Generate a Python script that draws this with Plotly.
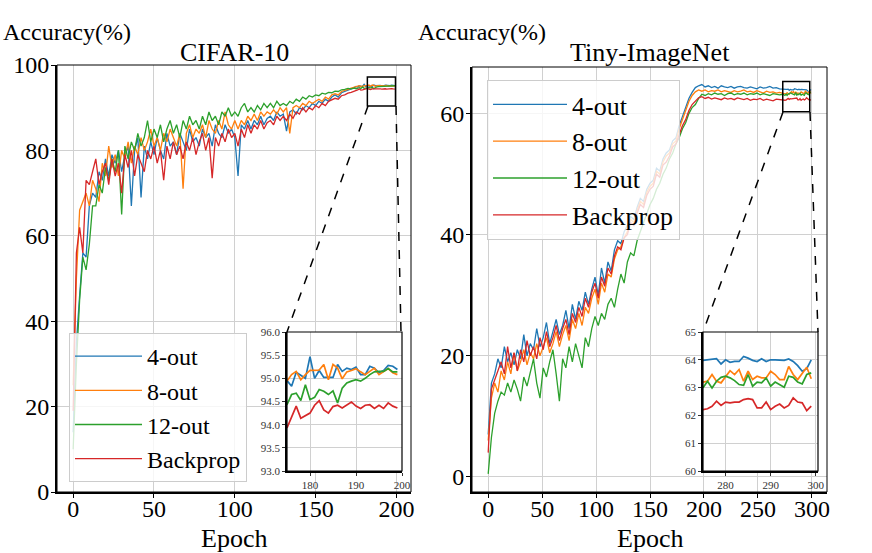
import plotly.graph_objects as go

SERIES = ["4-out", "8-out", "12-out", "Backprop"]
COLORS = ["#1f77b4", "#ff7f0e", "#2ca02c", "#d62728"]

# CIFAR-10, read every 2nd epoch from 0 to 174
CIFAR_EPOCHS = list(range(0, 176, 2))
cifar_4out = [
    14, 35, 46, 56, 55, 67, 70, 69, 75, 73,
    78, 74, 79, 77, 80, 75, 79, 81, 67, 80,
    83, 69, 81, 78, 82, 79, 83, 80, 78, 84,
    81, 82, 79, 84, 82, 80, 85, 82, 83, 81,
    85, 83, 84, 81, 86, 84, 83, 86, 84, 85,
    83, 74, 86, 85, 87, 85, 87, 86, 88, 86,
    87.5, 88, 87, 89, 88, 88.5, 84.5, 89, 89.5, 88.5,
    90, 89.5, 90.5, 90, 91, 90.5, 91.5, 91, 92, 91.5,
    92.5, 93, 92.5, 93.5, 93.8, 94.2, 94.4, 94.7,
]
cifar_8out = [
    25, 50, 66, 68, 70, 67, 73, 71, 68, 77,
    74, 81, 76, 79, 74, 80, 78, 82, 77, 81,
    79, 83, 80, 82, 85, 81, 83, 80, 84, 82,
    85, 83, 81, 84, 71, 84, 86, 83, 85, 84,
    86, 83, 87, 85, 84, 87, 85, 89, 86, 85,
    87, 85, 87, 86, 88, 87, 88.5, 87, 89, 88,
    89, 88.5, 89.5, 88.5, 90, 89, 90, 84, 90, 90.5,
    90, 91, 90.5, 91.5, 91, 91.5, 92, 91.5, 92.5, 92,
    93, 93.3, 93, 93.8, 94, 94.3, 94.6, 94.8,
]
cifar_12out = [
    10, 30, 45, 55, 52, 58, 67, 67, 72, 70,
    76, 73, 78, 75, 80, 65, 81, 78, 82, 80,
    84, 81, 83, 87, 82, 85, 83, 86, 82, 85,
    87, 84, 86, 83, 87, 85, 88, 86, 87, 85,
    88, 86, 89, 87, 88, 86, 89, 88, 90, 88,
    89, 88, 90, 91, 89, 90, 89, 90.5, 89.5, 91,
    90, 91, 90, 91.5, 90.5, 91, 90.5, 91.5, 91, 92,
    91.5, 92.5, 92, 92.8, 92.5, 93, 92.8, 93.4, 93.2, 93.6,
    93.5, 93.9, 93.8, 94.2, 94.3, 94.5, 94.4, 94.6,
]
cifar_backprop = [
    19, 56, 62, 56, 73, 72, 75, 78, 72, 75,
    77, 72, 78, 74, 77, 70, 79, 76, 80, 74,
    79, 77, 75, 80, 78, 81, 77, 80, 73, 81,
    78, 82, 79, 81, 78, 82, 80, 83, 79, 82,
    84, 80, 83, 73.5, 83, 81, 84, 82, 85, 83,
    84, 81, 85, 83, 86, 84, 86, 85, 87, 85,
    86.5, 87, 86, 88, 87, 88, 87, 88.5, 87.5, 89,
    88.5, 90, 89, 90, 89.5, 90.5, 90, 91, 90.5, 91.5,
    91.8, 92.2, 92, 92.8, 93, 93.4, 93.6, 93.8,
]

# CIFAR-10 zoomed window, every epoch 175..199
CIFAR_ZOOM_EPOCHS = list(range(175, 200))
cifar_zoom_4out = [
    94.95, 94.83, 95.13, 95.06, 95.0, 95.47, 95.0, 95.17, 95.02, 95.02,
    95.02, 95.3, 95.15, 95.22, 95.19, 95.24, 95.08, 95.08, 95.26, 95.22,
    95.12, 95.17, 95.28, 95.26, 95.19,
]
cifar_zoom_8out = [
    94.94, 95.08, 95.15, 94.97, 95.08, 95.17, 95.17, 95.18, 95.3, 94.97,
    95.3, 95.22, 94.99, 95.14, 95.17, 95.21, 95.14, 95.08, 95.15, 95.22,
    95.08, 95.14, 95.21, 95.12, 95.08,
]
cifar_zoom_12out = [
    94.43, 94.65, 94.68, 94.52, 94.86, 94.54, 94.59, 94.76, 94.72, 94.65,
    94.73, 94.47, 94.79, 94.9, 94.94, 94.97, 94.94, 95.0, 95.08, 95.14,
    95.15, 95.15, 95.21, 95.14, 95.14,
]
cifar_zoom_backprop = [
    93.93, 94.18, 94.4, 94.14, 94.2, 94.25, 94.42, 94.52, 94.32, 94.25,
    94.39, 94.42, 94.36, 94.42, 94.49, 94.4, 94.35, 94.42, 94.43, 94.35,
    94.42, 94.35, 94.47, 94.4, 94.36,
]

# Tiny-ImageNet, read every 3rd epoch from 0 to 273
TINY_EPOCHS = list(range(0, 276, 3))
tiny_4out = [
    7.0, 15.5, 17.0, 19.5, 18.0, 21.5, 19.0, 20.5, 18.5, 21.0,
    19.5, 23.5, 20.0, 22.0, 21.0, 24.5, 21.5, 23.0, 25.5, 22.0,
    24.0, 26.0, 23.5, 25.0, 27.5, 24.5, 28.5, 26.0, 29.0, 27.5,
    30.5, 28.5, 31.0, 33.0, 30.0, 34.5, 32.0, 35.5, 34.0, 37.5,
    39.0, 38.5, 40.5, 41.5, 43.0, 42.5, 44.5, 46.0, 45.5, 47.5,
    48.5, 49.0, 51.0, 50.5, 52.5, 53.5, 54.0, 55.5, 56.0, 58.0,
    59.5, 61.0, 62.5, 63.5, 64.3, 64.6, 64.8, 64.4, 64.6, 64.3,
    64.5, 64.2, 64.6, 64.4, 64.3, 64.5, 64.2, 64.4, 64.5, 64.3,
    64.2, 64.4, 64.3, 64.1, 64.4, 64.2, 64.3, 64.5, 64.2, 64.3,
    64.1, 64.0,
]
tiny_8out = [
    6.0, 13.0, 15.5, 14.0, 17.5, 16.0, 19.0, 17.0, 20.5, 17.5,
    19.0, 21.0, 18.5, 20.5, 19.5, 22.0, 20.0, 21.5, 23.0, 20.5,
    22.0, 24.0, 21.5, 23.5, 25.0, 22.5, 26.0, 24.5, 27.0, 25.0,
    28.0, 27.0, 29.5, 31.0, 28.5, 32.0, 30.5, 33.5, 33.0, 36.0,
    37.5, 38.0, 39.5, 40.5, 42.5, 42.0, 44.0, 45.5, 45.0, 47.0,
    48.0, 48.5, 50.5, 50.0, 52.0, 53.0, 53.5, 55.0, 55.5, 57.5,
    59.0, 60.5, 62.0, 63.0, 63.6, 63.9, 63.7, 63.9, 63.6, 63.8,
    63.7, 63.9, 63.6, 63.8, 63.7, 63.5, 63.8, 63.6, 63.7, 63.9,
    63.6, 63.7, 63.5, 63.8, 63.6, 63.4, 63.7, 63.5, 63.6, 63.4,
    63.5, 63.3,
]
tiny_12out = [
    0.5, 6.5, 10.5, 12.5, 14.0, 13.5, 15.5, 14.0, 16.0, 14.5,
    12.5, 16.5, 15.0, 17.5, 19.5, 15.5, 13.0, 18.0, 16.5, 19.0,
    21.0, 17.0, 12.5, 19.5, 18.0, 21.5, 19.0, 22.0, 20.0, 18.0,
    23.0, 21.5, 24.5, 26.5, 25.0, 27.0, 26.0, 28.5, 29.5, 28.0,
    31.0, 33.5, 32.0, 35.5, 37.0, 36.5, 39.0, 40.5, 42.0, 43.5,
    45.0, 46.0, 47.5, 48.5, 50.0, 51.0, 52.5, 53.5, 55.0, 56.0,
    57.5, 58.5, 60.0, 61.0, 61.5, 62.5, 63.2, 63.0, 63.3, 63.1,
    63.4, 63.2, 63.3, 63.0, 63.3, 63.4, 63.1, 63.3, 63.2, 63.4,
    63.1, 63.3, 63.2, 63.4, 63.1, 63.3, 63.2, 63.0, 63.3, 63.2,
    63.1, 63.2,
]
tiny_backprop = [
    4.0, 14.5, 16.0, 17.5, 19.0, 17.0, 21.5, 18.0, 20.5, 17.5,
    21.0, 19.0, 22.5, 20.0, 21.5, 19.5, 23.0, 21.0, 24.0, 21.5,
    23.0, 25.0, 22.5, 24.5, 26.0, 23.5, 27.0, 25.5, 28.0, 26.5,
    29.5, 28.0, 30.5, 32.0, 29.5, 33.0, 31.5, 34.5, 33.5, 36.5,
    38.0, 37.5, 39.5, 40.0, 42.0, 41.5, 43.5, 45.0, 44.5, 46.5,
    47.5, 48.0, 50.0, 49.5, 51.5, 52.0, 53.0, 54.5, 55.0, 56.5,
    58.0, 59.0, 60.5, 61.5, 62.0, 62.6, 62.8, 62.5, 62.7, 62.4,
    62.6, 62.5, 62.3, 62.6, 62.4, 62.5, 62.3, 62.6, 62.4, 62.3,
    62.5, 62.2, 62.4, 62.3, 62.5, 62.2, 62.4, 62.3, 62.1, 62.4,
    62.3, 62.2,
]

# Tiny-ImageNet zoomed window, every epoch 275..299
TINY_ZOOM_EPOCHS = list(range(275, 300))
tiny_zoom_4out = [
    63.98, 64.0, 64.0, 64.04, 63.85, 64.0, 63.91, 63.94, 63.94, 64.12,
    64.06, 63.98, 63.94, 64.04, 63.94, 64.0, 64.0, 63.98, 63.98, 64.03,
    63.94, 63.79, 63.59, 63.68, 64.0,
]
tiny_zoom_8out = [
    63.2, 63.23, 63.47, 63.23, 63.17, 63.41, 63.61, 63.47, 63.65, 63.23,
    63.59, 63.29, 63.41, 63.35, 63.35, 63.59, 63.47, 63.29, 63.29, 63.76,
    63.47, 63.29, 63.53, 63.73, 63.32,
]
tiny_zoom_12out = [
    62.99, 63.23, 62.99, 63.23, 63.37, 63.41, 63.35, 63.25, 63.11, 63.08,
    63.47, 63.05, 63.2, 63.17, 63.35, 63.05, 63.2, 63.11, 63.01, 63.41,
    63.37, 63.2, 63.13, 63.47, 63.53,
]
tiny_zoom_backprop = [
    62.21, 62.24, 62.33, 62.51, 62.36, 62.48, 62.45, 62.48, 62.48, 62.57,
    62.6, 62.57, 62.27, 62.27, 62.48, 62.21, 62.33, 62.41, 62.27, 62.36,
    62.63, 62.48, 62.45, 62.17, 62.33,
]

cifar_main = [cifar_4out, cifar_8out, cifar_12out, cifar_backprop]
cifar_zoom = [cifar_zoom_4out, cifar_zoom_8out, cifar_zoom_12out, cifar_zoom_backprop]
tiny_main = [tiny_4out, tiny_8out, tiny_12out, tiny_backprop]
tiny_zoom = [tiny_zoom_4out, tiny_zoom_8out, tiny_zoom_12out, tiny_zoom_backprop]

W, H = 872, 553
SERIF = "Liberation Serif"
GRID = "#d0d0d0"


def px(x):
    return x / W


def py(y):
    return 1 - y / H


fig = go.Figure()

for i, name in enumerate(SERIES):
    fig.add_trace(go.Scatter(
        x=CIFAR_EPOCHS + CIFAR_ZOOM_EPOCHS, y=cifar_main[i] + cifar_zoom[i],
        mode="lines", name=name, line=dict(color=COLORS[i], width=1.3),
        xaxis="x", yaxis="y", legend="legend", legendgroup="c" + name,
    ))
for i, name in enumerate(SERIES):
    fig.add_trace(go.Scatter(
        x=TINY_EPOCHS + TINY_ZOOM_EPOCHS, y=tiny_main[i] + tiny_zoom[i],
        mode="lines", name=name, line=dict(color=COLORS[i], width=1.3),
        xaxis="x2", yaxis="y2", legend="legend2", legendgroup="t" + name,
    ))
for i, name in enumerate(SERIES):
    fig.add_trace(go.Scatter(
        x=CIFAR_ZOOM_EPOCHS, y=cifar_zoom[i], mode="lines", showlegend=False,
        line=dict(color=COLORS[i], width=1.7), xaxis="x3", yaxis="y3",
    ))
for i, name in enumerate(SERIES):
    fig.add_trace(go.Scatter(
        x=TINY_ZOOM_EPOCHS, y=tiny_zoom[i], mode="lines", showlegend=False,
        line=dict(color=COLORS[i], width=1.7), xaxis="x4", yaxis="y4",
    ))

main_ax = dict(
    showgrid=True, gridcolor=GRID, gridwidth=1, zeroline=False,
    showline=True, linecolor="black", linewidth=2,
    ticks="outside", ticklen=4, tickcolor="black",
    tickfont=dict(family=SERIF, size=24, color="black"),
)
inset_ax = dict(
    showgrid=True, gridcolor=GRID, gridwidth=1, zeroline=False,
    showline=True, linecolor="black", linewidth=1.5,
    ticks="outside", ticklen=3, tickcolor="#333333",
    tickfont=dict(family=SERIF, size=11, color="#333333"),
)

fig.update_layout(
    width=W, height=H, margin=dict(l=0, r=0, t=0, b=0),
    template="none", paper_bgcolor="white", plot_bgcolor="white",
    font=dict(family=SERIF, size=22, color="black"),
    xaxis=dict(main_ax, domain=[px(57), px(411)], range=[-10, 209],
               tickvals=[0, 50, 100, 150, 200], anchor="y", ticklabelstandoff=-10),
    yaxis=dict(main_ax, domain=[py(492), py(65)], range=[0, 100],
               tickvals=[0, 20, 40, 60, 80, 100], anchor="x", ticklabelstandoff=-3),
    xaxis2=dict(main_ax, domain=[px(472), px(827)], range=[-15, 314],
                tickvals=[0, 50, 100, 150, 200, 250, 300], anchor="y2",
                ticklabelstandoff=-10),
    yaxis2=dict(main_ax, domain=[py(492), py(67)], range=[-2.5, 67.7],
                tickvals=[0, 20, 40, 60], anchor="x2", ticklabelstandoff=-3),
    xaxis3=dict(inset_ax, domain=[px(287), px(402)], range=[175, 200],
                tickvals=[180, 190, 200], anchor="y3"),
    yaxis3=dict(inset_ax, domain=[py(471), py(332)], range=[93, 96],
                tickvals=[93, 93.5, 94, 94.5, 95, 95.5, 96], tickformat=".1f",
                anchor="x3"),
    xaxis4=dict(inset_ax, domain=[px(703), px(818)], range=[275, 300.5],
                tickvals=[280, 290, 300], anchor="y4"),
    yaxis4=dict(inset_ax, domain=[py(471), py(332)], range=[60, 65],
                tickvals=[60, 61, 62, 63, 64, 65], anchor="x4"),
    legend=dict(x=px(69), y=py(333), xanchor="left", yanchor="top",
                bgcolor="rgba(255,255,255,0.8)", bordercolor="#cccccc",
                borderwidth=1, font=dict(family=SERIF, size=24),
                itemwidth=67, tracegroupgap=0),
    legend2=dict(x=px(487), y=py(80), xanchor="left", yanchor="top",
                 bgcolor="rgba(255,255,255,0.8)", bordercolor="#cccccc",
                 borderwidth=1, font=dict(family=SERIF, size=26),
                 itemwidth=74, tracegroupgap=0),
)

# frames around each axes box (top/right spines thinner than left/bottom)
for xr, yr, w in [("x", "y", 1), ("x2", "y2", 1), ("x3", "y3", 1.2), ("x4", "y4", 1.2)]:
    fig.add_shape(type="rect", xref=xr + " domain", yref=yr + " domain",
                  x0=0, x1=1, y0=0, y1=1, line=dict(color="black", width=w))

# zoom indicator boxes
fig.add_shape(type="rect", xref="x", yref="y", x0=182, x1=199.4, y0=90.4, y1=97.2,
              line=dict(color="black", width=1.5))
fig.add_shape(type="rect", xref="x2", yref="y2", x0=273, x1=298, y0=60.3, y1=65.3,
              line=dict(color="black", width=1.5))

# dashed connectors from boxes to insets
for (x0, y0, x1, y1) in [(368, 106, 287, 332), (396, 106, 401, 332),
                         (783, 112, 703, 332), (810, 112, 818, 332)]:
    fig.add_shape(type="line", xref="paper", yref="paper",
                  x0=px(x0), y0=py(y0), x1=px(x1), y1=py(y1),
                  line=dict(color="black", width=1.5, dash="dash"))

texts = [
    ("Accuracy(%)", 1, 32, "left", 24),
    ("CIFAR-10", 234, 52, "center", 26),
    ("Epoch", 234, 538, "center", 26),
    ("Accuracy(%)", 416, 32, "left", 24),
    ("Tiny-ImageNet", 650, 52, "center", 26),
    ("Epoch", 650, 538, "center", 26),
]
for t, x, y, anchor, size in texts:
    fig.add_annotation(text=t, xref="paper", yref="paper", x=px(x), y=py(y),
                       xanchor=anchor, yanchor="middle", showarrow=False,
                       font=dict(family=SERIF, size=size, color="black"))

# page body has a default 8px margin; remove it so the figure fills the window
fig.write_html("out.html", config={"displayModeBar": False},
               post_script="document.body.style.margin='0px';")
